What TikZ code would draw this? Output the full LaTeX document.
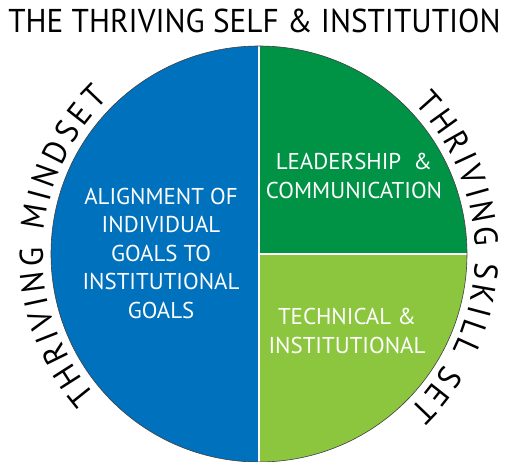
\documentclass[tikz,border=0pt]{standalone}
\usepackage{fontspec}
\setmainfont{PT Sans}
\setsansfont{PT Sans}
\newfontfamily\headfamily[FakeStretch=0.947]{PT Sans}
\usetikzlibrary{decorations.text}
\tikzset{every node/.style={font=\sffamily}}
\definecolor{mindblue}{HTML}{0071BC}
\definecolor{leadgreen}{HTML}{009245}
\definecolor{techgreen}{HTML}{8CC63F}
\newcommand{\headfont}{\headfamily\fontsize{33}{33}\selectfont}
\newcommand{\wedgefont}{\fontsize{22.9}{28.5}\selectfont}

\begin{document}
\begin{tikzpicture}[x=1pt, y=1pt,
    wedgetext/.style={text=white, align=center, font=\wedgefont, inner sep=0pt},
    arctext/.style={decorate, decoration={text along path, text align=fit to path, text={#1}}}]
  \useasboundingbox (0,0) rectangle (506,461);
  \coordinate (c) at (259,207);
  % the three wedges
  \fill[mindblue] (c) ++(90:208) arc[start angle=90, end angle=270, radius=208] -- cycle;
  \fill[leadgreen] (c) -- ++(0:208) arc[start angle=0, end angle=90, radius=208] -- cycle;
  \fill[techgreen] (c) -- ++(270:208) arc[start angle=270, end angle=360, radius=208] -- cycle;
  \draw[white, line width=2pt] (c) ++(0,208) -- ++(0,-416);
  \draw[white, line width=1.5pt] (c) -- ++(208,0);
  \draw[black!75, line width=0.6pt] (c) circle[radius=208];

  \node[font=\headfont, anchor=base] (title) at (254.5,428) {THE THRIVING SELF \& INSTITUTION};

  \node[wedgetext] (align) at (161,208) {ALIGNMENT OF\\INDIVIDUAL\\GOALS TO\\INSTITUTIONAL\\GOALS};
  \node[wedgetext] (lead) at (354,285) {LEADERSHIP \ \&\\COMMUNICATION};
  \node[wedgetext] (tech) at (347,130) {TECHNICAL \&\\INSTITUTIONAL};

  % curved labels round the outside
  \path[arctext={|\headfont|THRIVING MINDSET}] (c) ++(221:216) arc[start angle=221, end angle=134, radius=216];
  \path[arctext={|\headfont|THRIVING SKILL SET}] (c) ++(44:216) arc[start angle=44, end angle=-46, radius=216];
\end{tikzpicture}
\end{document}
